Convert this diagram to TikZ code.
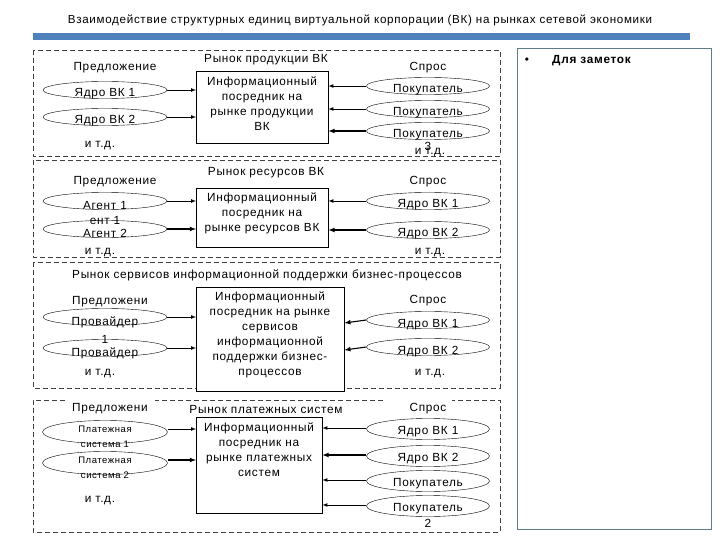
\documentclass[tikz,border=0pt]{standalone}
\usepackage{fontspec}
\setmainfont{Liberation Sans}[LetterSpace=6]
\usetikzlibrary{shapes.geometric}
\definecolor{barblue}{RGB}{79,129,189}
\definecolor{notegray}{RGB}{95,125,135}
\begin{document}
\begin{tikzpicture}[x=1pt,y=-1pt,font=\fontsize{11.8}{15}\selectfont,
 pan/.style={draw=black!75,dash pattern=on 5pt off 3pt,line width=.6pt},
 ell/.style={draw,ellipse,minimum width=124,minimum height=17,inner sep=0},
 box/.style={draw,fill=white,anchor=north west,inner sep=0},
 arr/.style={-latex,line width=.7pt}]
\useasboundingbox (0,0) rectangle (720,540);
\node (title) at (360,20) {\fontsize{11.6}{13}\selectfont Взаимодействие структурных единиц виртуальной корпорации (ВК) на рынках сетевой экономики};
\fill[barblue] (33,33) rectangle (690,40);
\draw[notegray,fill=white,line width=.8pt] (517,48) rectangle (711,529);
\node (bul) at (527,61) {\textbullet};
\node[anchor=west,inner sep=0] (notes) at (552,61) {\bfseries Для заметок};
% рынок продукции
\draw[pan] (33,50) rectangle (500,156);
\node (p1) at (115,68) {Предложение};
\node (r1) at (266,60) {Рынок продукции ВК};
\node (d1) at (428,68) {Спрос};
\node[box,minimum width=132,minimum height=72] (m1) at (196,71) {};
\node[align=center,anchor=north] (m1t) at (262,73) {Информационный\\посредник на\\рынке продукции\\ВК};
\foreach \n/\y/\t/\w in {a/90/Ядро ВК 1/.7, b/117/Ядро ВК 2/.7} {
  \node[ell] (l1\n) at (105,\y) {};
  \node (t1\n) at (105,\y+4) {\t};
  \draw[arr,line width=\w] (l1\n) -- (l1\n -| m1.west);
}
\foreach \n/\y/\w in {a/86/.7, b/109/.7, c/131/1.1} {
  \node[ell,minimum width=123] (r1\n) at (428,\y) {};
  \node (s1\n) at (428,\y+4) {Покупатель};
  \draw[arr,line width=\w] (r1\n) -- (r1\n -| m1.east);
}
\node (e1) at (100,146) {и т.д.};
\node (n3) at (428,146) {3};
\node (f1) at (430,153) {и т.д.};
% рынок ресурсов
\draw[pan] (33,160) rectangle (500,257);
\node (p2) at (115,182) {Предложение};
\node (r2) at (266,173) {Рынок ресурсов ВК};
\node (d2) at (428,182) {Спрос};
\node[box,minimum width=132,minimum height=59] (m2) at (196,188) {};
\node[align=center,anchor=north] (m2t) at (262,189) {Информационный\\посредник на\\рынке ресурсов ВК};
\foreach \n/\y/\t/\w in {a/201/Агент 1/.7, b/229/Агент 2/1.1} {
  \node[ell] (l2\n) at (105,\y) {};
  \node (t2\n) at (105,\y+4) {\t};
  \draw[arr,line width=\w] (l2\n) -- (l2\n -| m2.west);
}
\node (a1) at (105,220) {ент 1};
\foreach \n/\y/\t/\w in {a/201/Ядро ВК 1/.7, b/230/Ядро ВК 2/1.1} {
  \node[ell,minimum width=123] (r2\n) at (428,\y) {};
  \node (s2\n) at (428,\y+4) {\t};
  \draw[arr,line width=\w] (r2\n) -- (r2\n -| m2.east);
}
\node (e2) at (100,253) {и т.д.};
\node (f2) at (430,253) {и т.д.};
% рынок сервисов
\draw[pan] (33,262) rectangle (500,388);
\node (r3) at (267,275) {Рынок сервисов информационной поддержки бизнес-процессов};
\node (p3) at (110,302) {Предложени};
\node (d3) at (428,301) {Спрос};
\node[box,minimum width=148,minimum height=104] (m3) at (196,287) {};
\node[align=center,anchor=north] (m3t) at (270,288) {Информационный\\посредник на рынке\\сервисов\\информационной\\поддержки бизнес-\\процессов};
\foreach \n/\y/\w in {a/317/.7, b/348/.7} {
  \node[ell] (l3\n) at (105,\y) {};
  \node (t3\n) at (105,\y+5) {Провайдер};
  \draw[arr,line width=\w] (l3\n) -- (l3\n -| m3.west);
}
\node (o1) at (105,339) {1};
\foreach \n/\y/\t in {a/320/Ядро ВК 1, b/347/Ядро ВК 2} {
  \node[ell,minimum width=123] (r3\n) at (428,\y) {};
  \node (s3\n) at (428,\y+5) {\t};
  \coordinate (h3\n) at ([yshift=-3]m3.east |- r3\n);
  \draw[arr,line width=1.1pt] (r3\n.west) -- (h3\n);
}
\node (e3) at (100,374) {и т.д.};
\node (f3) at (430,374) {и т.д.};
% рынок платежных систем
\draw[pan] (65,400) -- (33,400) -- (33,532) -- (500,532) -- (500,400) -- (452,400) (383,400) -- (155,400);
\node (p4) at (110,409) {Предложени};
\node (r4) at (266,409) {Рынок платежных систем};
\node (d4) at (428,409) {Спрос};
\node[box,minimum width=126,minimum height=96] (m4) at (196,417) {};
\node[align=center,anchor=north] (m4t) at (259,419) {Информационный\\посредник на\\рынке платежных\\систем};
\foreach \n/\y/\k/\w in {a/432/1/.7, b/463/2/1.1} {
  \node[ell,minimum width=125,minimum height=23] (l4\n) at (105,\y) {};
  \node[align=center,font=\fontsize{9.5}{15}\selectfont] (t4\n) at (105,\y+5) {Платежная\\система \k};
  \draw[arr,line width=\w] (l4\n.east |- 0,\y-3) -- (m4.west |- 0,\y-3);
}
\foreach \n/\y/\t/\w in {a/429/Ядро ВК 1/.7, b/456/Ядро ВК 2/1.1, c/481/Покупатель/.7, d/506/Покупатель/.7} {
  \node[ell,minimum width=123,minimum height=21] (r4\n) at (428,\y) {};
  \node (s4\n) at (428,\y+3) {\t};
  \draw[arr,line width=\w] (r4\n.west |- 0,\y-1) -- (m4.east |- 0,\y-1);
}
\node (n2) at (428,523) {2};
\node (e4) at (100,501) {и т.д.};
\end{tikzpicture}
\end{document}
